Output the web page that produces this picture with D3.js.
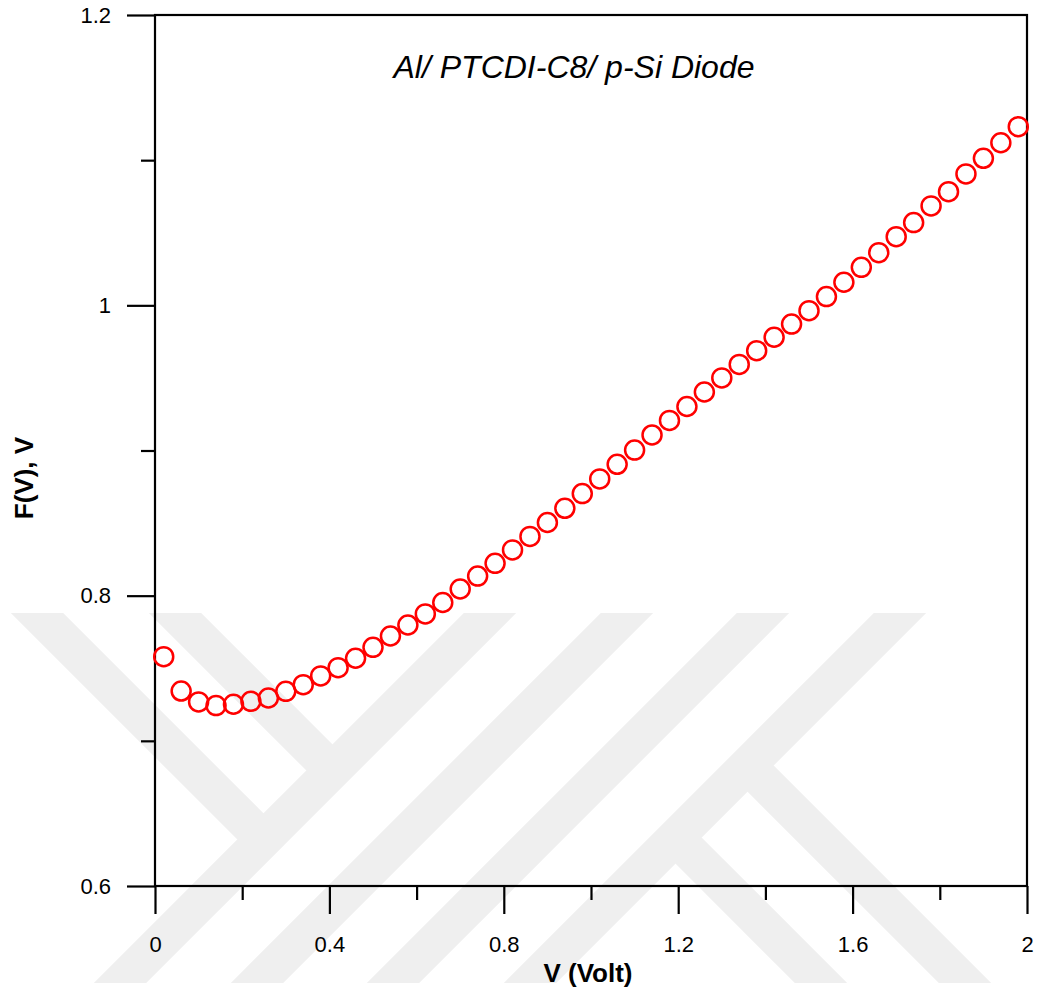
<!DOCTYPE html>
<html>
<head>
<meta charset="utf-8">
<script src="https://cdn.jsdelivr.net/npm/d3@7"></script>
<style>
  html, body { margin: 0; padding: 0; background: #ffffff; }
  svg { display: block; font-family: "Liberation Sans", Arial, sans-serif; }
</style>
</head>
<body>
<svg id="chart" width="1039" height="998"></svg>
<script>
"use strict";

// applied voltage (V) and Norde function F(V)
var voltage = [0.02, 0.06, 0.10, 0.14, 0.18, 0.22, 0.26, 0.30, 0.34, 0.38,
               0.42, 0.46, 0.50, 0.54, 0.58, 0.62, 0.66, 0.70, 0.74, 0.78,
               0.82, 0.86, 0.90, 0.94, 0.98, 1.02, 1.06, 1.10, 1.14, 1.18,
               1.22, 1.26, 1.30, 1.34, 1.38, 1.42, 1.46, 1.50, 1.54, 1.58,
               1.62, 1.66, 1.70, 1.74, 1.78, 1.82, 1.86, 1.90, 1.94, 1.98];
var fValues = [0.758, 0.7343, 0.7268, 0.7243, 0.7252, 0.7272, 0.7295, 0.7341, 0.7387, 0.7447,
               0.7504, 0.7569, 0.7644, 0.7722, 0.7798, 0.7874, 0.7953, 0.8046, 0.8135, 0.8223,
               0.8315, 0.8408, 0.8504, 0.8602, 0.8703, 0.8804, 0.8905, 0.9003, 0.9107, 0.9207,
               0.9303, 0.9403, 0.9500, 0.9593, 0.9688, 0.9780, 0.9871, 0.9963, 1.0060, 1.0159,
               1.0262, 1.0363, 1.0473, 1.0570, 1.0685, 1.0783, 1.0905, 1.1013, 1.1120, 1.1231];

// tick values
var xMajor = [0, 0.4, 0.8, 1.2, 1.6, 2];
var xMinor = [0.2, 0.6, 1.0, 1.4, 1.8];
var yMajor = [0.6, 0.8, 1.0, 1.2];
var yMinor = [0.7, 0.9, 1.1];

var svg = d3.select("#chart");

// plot box in pixels
var box = {left: 155, right: 1027, top: 15, bottom: 886};

// background watermark (grey diagonal bands), clipped to a horizontal strip
svg.append("defs").append("clipPath").attr("id", "wm-clip")
    .append("rect").attr("x", 0).attr("y", 613).attr("width", 1039).attr("height", 370);

var bands = [
    [80, 1023, 530, 573], [217, 1023, 667, 573], [353, 1023, 803, 573], [490, 1023, 940, 573],
    [-3, 573, 263.5, 839.5], [135, 573, 332.5, 770.5],
    [675.5, 837.5, 901, 1063], [747.5, 765.5, 1045, 1063]
];
svg.append("g").attr("clip-path", "url(#wm-clip)")
    .selectAll("line").data(bands).enter().append("line")
    .attr("x1", function(d){ return d[0]; })
    .attr("y1", function(d){ return d[1]; })
    .attr("x2", function(d){ return d[2]; })
    .attr("y2", function(d){ return d[3]; })
    .attr("stroke", "#efefef")
    .attr("stroke-width", 37);

var x = d3.scaleLinear().domain([0, 2]).range([box.left, box.right]);
var y = d3.scaleLinear().domain([0.6, 1.2]).range([box.bottom, box.top]);

var fmt = function(d){ return String(+d.toFixed(2)); };

// axes: major and minor ticks
var gx = svg.append("g").attr("transform", "translate(0," + box.bottom + ")");
gx.call(d3.axisBottom(x).tickValues(xMajor).tickSize(28).tickPadding(22).tickFormat(fmt));
gx.append("g").call(d3.axisBottom(x).tickValues(xMinor).tickSize(14).tickFormat(""));

var gy = svg.append("g").attr("transform", "translate(" + box.left + ",0)");
gy.call(d3.axisLeft(y).tickValues(yMajor).tickSize(28).tickPadding(16).tickFormat(fmt));
gy.append("g").call(d3.axisLeft(y).tickValues(yMinor).tickSize(14).tickFormat(""));

svg.selectAll(".domain").remove();
svg.selectAll(".tick line").attr("stroke", "#000").attr("stroke-width", 2.2);
svg.selectAll(".tick text")
    .attr("fill", "#000")
    .style("font-size", "22px")
    .style("font-family", "'Liberation Sans', Arial, sans-serif");

// frame
svg.append("rect")
    .attr("x", box.left).attr("y", box.top)
    .attr("width", box.right - box.left).attr("height", box.bottom - box.top)
    .attr("fill", "none").attr("stroke", "#000").attr("stroke-width", 2.2);

// data points
svg.append("g").selectAll("circle")
    .data(voltage).enter().append("circle")
    .attr("cx", function(d){ return x(d); })
    .attr("cy", function(d, i){ return y(fValues[i]); })
    .attr("r", 9.5)
    .attr("fill", "none")
    .attr("stroke", "#ff0000")
    .attr("stroke-width", 2.5);

// labels
svg.append("text")
    .attr("x", 574).attr("y", 78)
    .attr("text-anchor", "middle")
    .style("font-size", "32px").style("font-style", "italic")
    .text("Al/ PTCDI-C8/ p-Si Diode");

svg.append("text")
    .attr("x", 588).attr("y", 982)
    .attr("text-anchor", "middle")
    .style("font-size", "26px").style("font-weight", "bold")
    .text("V (Volt)");

svg.append("text")
    .attr("transform", "translate(33,478) rotate(-90)")
    .attr("text-anchor", "middle")
    .style("font-size", "26px").style("font-weight", "bold")
    .text("F(V), V");
</script>
</body>
</html>
